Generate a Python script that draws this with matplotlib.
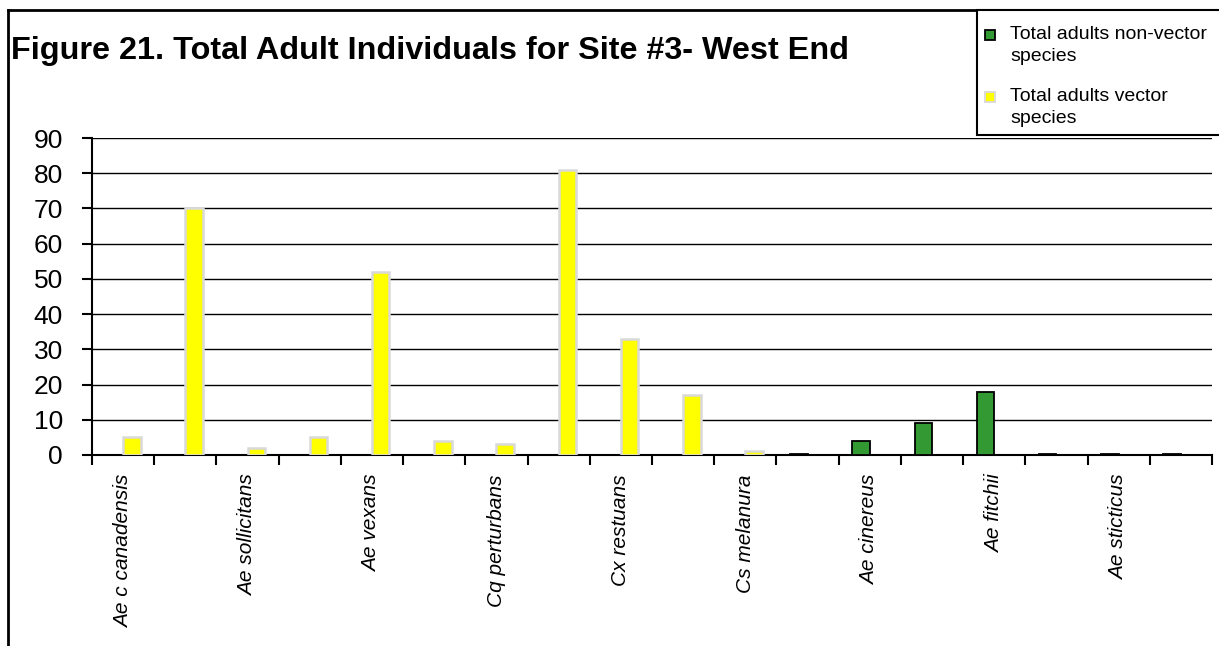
import numpy as np
import matplotlib.pyplot as plt
from matplotlib.lines import Line2D
from matplotlib.patches import Rectangle

plt.rcParams['font.family'] = ['Liberation Sans', 'DejaVu Sans']

TITLE = "Figure 21. Total Adult Individuals for Site #3- West End"
SPECIES = ["Ae c canadensis", "", "Ae sollicitans", "", "Ae vexans", "",
           "Cq perturbans", "", "Cx restuans", "", "Cs melanura", "",
           "Ae cinereus", "", "Ae fitchii", "", "Ae sticticus", ""]
NON_VECTOR = [0, 0, 0, 0, 0, 0, 0, 0, 0, 0, 0, 0.3, 4, 9, 18, 0.3, 0.3, 0.3]
VECTOR = [5, 70, 2, 5, 52, 4, 3, 81, 33, 17, 1, 0, 0, 0, 0, 0, 0, 0]
HAS_NON_VECTOR = [False] * 11 + [True] * 7
LABEL_NV = "Total adults non-vector\nspecies"
LABEL_V = "Total adults vector\nspecies"

GREEN = "#339933"
YELLOW = "#ffff00"
W, H = 1219, 646

fig = plt.figure(figsize=(W / 100, H / 100), dpi=100)
ax = fig.add_axes([92 / W, 1 - 455 / H, (1212 - 92) / W, (455 - 138) / H])

x = np.arange(len(SPECIES))
w = 0.28
nv_mask = np.array(HAS_NON_VECTOR)
v_mask = ~nv_mask
ax.bar(x[v_mask] + w / 2, np.array(VECTOR)[v_mask], width=w, color=YELLOW,
       edgecolor="#d9d9d9", linewidth=1.8, zorder=3)
ax.bar(x[nv_mask] - w / 2, np.array(NON_VECTOR)[nv_mask], width=w, color=GREEN,
       edgecolor="black", linewidth=1.3, zorder=3)

ax.set_xlim(-0.5, len(SPECIES) - 0.5)
ax.set_ylim(0, 90)
ax.set_yticks(range(0, 91, 10))
ax.yaxis.grid(True, color="black", linewidth=1.0, zorder=0)
ax.set_axisbelow(True)
ax.tick_params(axis="y", direction="out", length=7, width=1.5, pad=14, labelsize=19)

ax.set_xticks(x)
ax.set_xticklabels(SPECIES, rotation=90, fontsize=15, style="italic")
ax.set_xticks(np.arange(-0.5, len(SPECIES)), minor=True)
ax.tick_params(axis="x", which="major", length=0, pad=14)
ax.tick_params(axis="x", which="minor", direction="out", length=7, width=1.5)

for s in ("top", "right"):
    ax.spines[s].set_visible(False)
for s in ("left", "bottom"):
    ax.spines[s].set_linewidth(1.5)

# outer chart border (left and top)
fig.add_artist(Line2D([8 / W, 8 / W], [0, 1 - 10 / H], transform=fig.transFigure,
                      color="black", linewidth=2))
fig.add_artist(Line2D([8 / W, 1], [1 - 10 / H, 1 - 10 / H], transform=fig.transFigure,
                      color="black", linewidth=2))

fig.text(11 / W, 1 - 51 / H, TITLE, fontsize=23.3, fontweight="bold", va="center", ha="left")

# legend box, running off the right edge like the original
fig.add_artist(Rectangle((977 / W, 1 - 135 / H), (W + 20 - 977) / W, (135 - 10) / H,
                         transform=fig.transFigure, facecolor="white",
                         edgecolor="black", linewidth=1.5, zorder=5))
for (label, fc, ec, ytop) in ((LABEL_NV, GREEN, "black", 26), (LABEL_V, YELLOW, "#d9d9d9", 88)):
    fig.add_artist(Rectangle((985 / W, 1 - (ytop + 14) / H), 10 / W, 10 / H,
                             transform=fig.transFigure, facecolor=fc, edgecolor=ec,
                             linewidth=1.3, zorder=6))
    fig.text(1010 / W, 1 - ytop / H, label, fontsize=14, va="top", ha="left",
             linespacing=1.35, zorder=6)

fig.savefig("out.png", dpi=100)
